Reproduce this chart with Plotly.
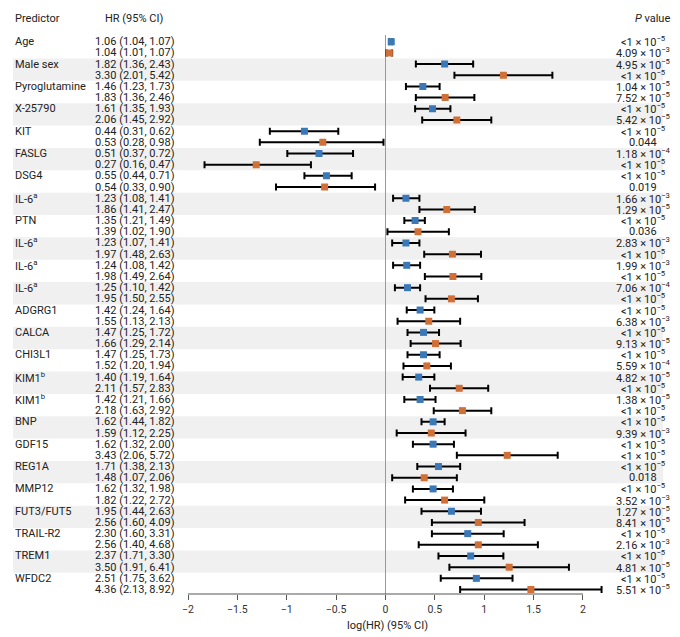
import numpy as np
import plotly.graph_objects as go

# predictors (two models per predictor: blue = first row, orange = second row)
predictors = ["Age", "Male sex", "Pyroglutamine", "X-25790", "KIT", "FASLG", "DSG4",
              "IL-6<sup>a</sup>", "PTN", "IL-6<sup>a</sup>", "IL-6<sup>a</sup>", "IL-6<sup>a</sup>",
              "ADGRG1", "CALCA", "CHI3L1", "KIM1<sup>b</sup>", "KIM1<sup>b</sup>", "BNP",
              "GDF15", "REG1A", "MMP12", "FUT3/FUT5", "TRAIL-R2", "TREM1", "WFDC2"]

hr1 = [1.06, 1.82, 1.46, 1.61, 0.44, 0.51, 0.55, 1.23, 1.35, 1.23, 1.24, 1.25, 1.42,
       1.47, 1.47, 1.40, 1.42, 1.62, 1.62, 1.71, 1.62, 1.95, 2.30, 2.37, 2.51]
lo1 = [1.04, 1.36, 1.23, 1.35, 0.31, 0.37, 0.44, 1.08, 1.21, 1.07, 1.08, 1.10, 1.24,
       1.25, 1.25, 1.19, 1.21, 1.44, 1.32, 1.38, 1.32, 1.44, 1.60, 1.71, 1.75]
hi1 = [1.07, 2.43, 1.73, 1.93, 0.62, 0.72, 0.71, 1.41, 1.49, 1.41, 1.42, 1.42, 1.64,
       1.72, 1.73, 1.64, 1.66, 1.82, 2.00, 2.13, 1.98, 2.63, 3.31, 3.30, 3.62]

hr2 = [1.04, 3.30, 1.83, 2.06, 0.53, 0.27, 0.54, 1.86, 1.39, 1.97, 1.98, 1.95, 1.55,
       1.66, 1.52, 2.11, 2.18, 1.59, 3.43, 1.48, 1.82, 2.56, 2.56, 3.50, 4.36]
lo2 = [1.01, 2.01, 1.36, 1.45, 0.28, 0.16, 0.33, 1.41, 1.02, 1.48, 1.49, 1.50, 1.13,
       1.29, 1.20, 1.57, 1.63, 1.12, 2.06, 1.07, 1.22, 1.60, 1.40, 1.91, 2.13]
hi2 = [1.07, 5.42, 2.46, 2.92, 0.98, 0.47, 0.90, 2.47, 1.90, 2.63, 2.64, 2.55, 2.13,
       2.14, 1.94, 2.83, 2.92, 2.25, 5.72, 2.06, 2.72, 4.09, 4.68, 6.41, 8.92]

LT = "<1 × 10<sup>−5</sup>"
p1 = [LT, "4.95 × 10<sup>−5</sup>", "1.04 × 10<sup>−5</sup>", LT, LT, "1.18 × 10<sup>−4</sup>", LT,
      "1.66 × 10<sup>−3</sup>", LT, "2.83 × 10<sup>−3</sup>", "1.99 × 10<sup>−3</sup>",
      "7.06 × 10<sup>−4</sup>", LT, LT, LT, "4.82 × 10<sup>−5</sup>", "1.38 × 10<sup>−5</sup>",
      LT, LT, LT, LT, "1.27 × 10<sup>−5</sup>", LT, LT, LT]
p2 = ["4.09 × 10<sup>−3</sup>", LT, "7.52 × 10<sup>−5</sup>", "5.42 × 10<sup>−5</sup>", "0.044",
      LT, "0.019", "1.29 × 10<sup>−5</sup>", "0.036", LT, LT, LT, "6.38 × 10<sup>−3</sup>",
      "9.13 × 10<sup>−5</sup>", "5.59 × 10<sup>−4</sup>", LT, LT, "9.39 × 10<sup>−3</sup>",
      LT, "0.018", "3.52 × 10<sup>−3</sup>", "8.41 × 10<sup>−5</sup>", "2.16 × 10<sup>−3</sup>",
      "4.81 × 10<sup>−5</sup>", "5.51 × 10<sup>−5</sup>"]

FONT = "Roboto"
BLUE = "#3b78b8"
ORANGE = "#d06f36"

n = len(predictors)
rows1 = np.arange(n) * 2
rows2 = rows1 + 1

fig = go.Figure()

for hr, lo, hi, rows, col in [(hr1, lo1, hi1, rows1, BLUE), (hr2, lo2, hi2, rows2, ORANGE)]:
    x = np.log(hr)
    fig.add_trace(go.Scatter(
        x=x, y=rows, mode="markers",
        marker=dict(symbol="square", size=7, color=col),
        error_x=dict(type="data", symmetric=False,
                     array=np.log(hi) - x, arrayminus=x - np.log(lo),
                     color="black", thickness=2, width=3.5),
        showlegend=False, hoverinfo="skip"))

# alternating grey bands
shapes = []
for i in range(1, n, 2):
    shapes.append(dict(type="rect", xref="paper", yref="y", x0=13/680, x1=663/680,
                       y0=2*i - 0.5, y1=2*i + 1.5, fillcolor="#f0f0f0",
                       line=dict(width=0), layer="below"))
# x axis line only from -2 to 2
shapes.append(dict(type="line", xref="x", yref="paper", x0=-2, x1=2,
                   y0=1 - 594/637, y1=1 - 594/637, line=dict(color="#555", width=1)))

ann = []
tf = dict(family=FONT, size=11, color="#222")
for i in range(n):
    ann.append(dict(xref="paper", yref="y", x=13/680, y=rows1[i], text=predictors[i],
                    xanchor="left", yanchor="middle", showarrow=False, font=tf))
    ann.append(dict(xref="paper", yref="y", x=177/680, y=rows1[i],
                    text=f"{hr1[i]:.2f} ({lo1[i]:.2f}, {hi1[i]:.2f})",
                    xanchor="right", yanchor="middle", showarrow=False, font=tf))
    ann.append(dict(xref="paper", yref="y", x=177/680, y=rows2[i],
                    text=f"{hr2[i]:.2f} ({lo2[i]:.2f}, {hi2[i]:.2f})",
                    xanchor="right", yanchor="middle", showarrow=False, font=tf))
    ann.append(dict(xref="paper", yref="y", x=643/680, y=rows1[i], text=p1[i],
                    xanchor="center", yanchor="middle", showarrow=False, font=tf))
    ann.append(dict(xref="paper", yref="y", x=643/680, y=rows2[i], text=p2[i],
                    xanchor="center", yanchor="middle", showarrow=False, font=tf))

# headers and axis title
ann.append(dict(xref="paper", yref="paper", x=13/680, y=1 - 19/637, text="Predictor",
                xanchor="left", yanchor="middle", showarrow=False, font=tf))
ann.append(dict(xref="paper", yref="paper", x=134/680, y=1 - 19/637, text="HR (95% CI)",
                xanchor="center", yanchor="middle", showarrow=False, font=tf))
ann.append(dict(xref="paper", yref="paper", x=652/680, y=1 - 19/637, text="<i>P</i> value",
                xanchor="center", yanchor="middle", showarrow=False, font=tf))
ann.append(dict(xref="paper", yref="paper", x=387/680, y=1 - 625/637, text="log(HR) (95% CI)",
                xanchor="center", yanchor="middle", showarrow=False, font=tf))

fig.update_layout(
    width=680, height=637,
    margin=dict(l=0, r=0, t=0, b=0),
    paper_bgcolor="white", plot_bgcolor="rgba(0,0,0,0)",
    font=dict(family=FONT, size=11, color="#222"),
    shapes=shapes, annotations=ann,
    xaxis=dict(domain=[168.25/680, 612.6/680], range=[-2.2, 2.3],
               tickvals=[-2, -1.5, -1, -0.5, 0, 0.5, 1, 1.5, 2],
               ticks="outside", ticklen=5, tickcolor="#555",
               showgrid=False, showline=False,
               zeroline=True, zerolinecolor="#999", zerolinewidth=1,
               tickfont=dict(family=FONT, size=10.5, color="#333")),
    yaxis=dict(domain=[1 - 594/637, 1 - 35/637], range=[49.4, -0.6],
               visible=False, showgrid=False, zeroline=False),
)

# the page has a default 8px body margin; drop it so the figure sits at 0,0
fig.write_html("out.html", config={"displayModeBar": False},
               post_script="document.body.style.margin='0';document.body.style.overflow='hidden';")
